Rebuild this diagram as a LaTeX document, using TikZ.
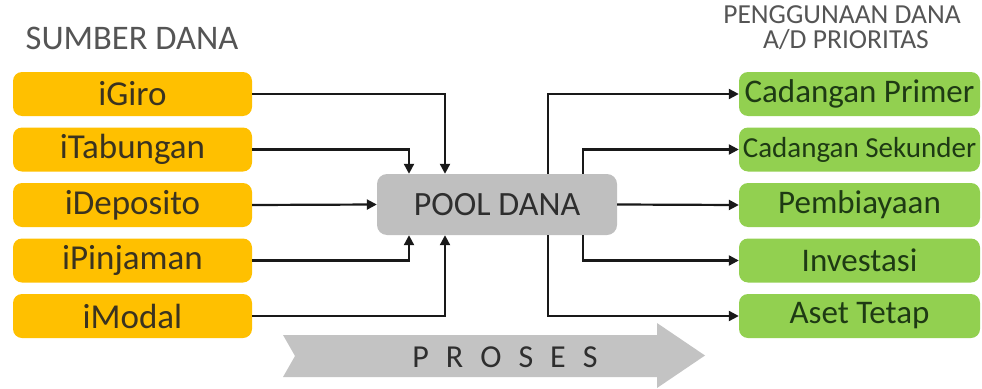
\documentclass[tikz,border=0pt]{standalone}
\usepackage{fontspec}
\setmainfont{Carlito}
\usetikzlibrary{arrows.meta,calc}
\definecolor{srcfill}{HTML}{FFC000}
\definecolor{usefill}{HTML}{92D050}
\definecolor{poolfill}{HTML}{BFBFBF}
\definecolor{arrowfill}{HTML}{C3C3C3}
\definecolor{headgray}{HTML}{555555}
\definecolor{srctext}{HTML}{3A3320}
\definecolor{usetext}{HTML}{1E3A14}
\definecolor{pooltext}{HTML}{2E2E2E}
\tikzset{
  srcbox/.style={fill=srcfill, rounded corners=9pt, minimum width=239pt, minimum height=44pt,
    inner sep=0pt, text=srctext, font=\fontsize{35}{38}\selectfont},
  usebox/.style={fill=usefill, rounded corners=9pt, minimum width=241pt, minimum height=44pt,
    inner sep=0pt, text=usetext, font=\fontsize{33}{36}\selectfont},
  flow/.style={line width=2.2pt, draw=black!90, -{Triangle[length=10pt,width=10pt]}},
  heading/.style={text=headgray, inner sep=0pt, align=center},
}
\begin{document}
\begin{tikzpicture}[x=1pt,y=-1pt]
  \useasboundingbox (0,0) rectangle (982,388);

  % column headings
  \node[heading, font=\fontsize{34.5}{36}\selectfont] (hsrc) at (132,38) {SUMBER DANA};
  \node[heading, font=\fontsize{27.5}{30}\selectfont, anchor=base] (huse1) at (842,23.5) {PENGGUNAAN DANA};
  \node[heading, font=\fontsize{27.5}{30}\selectfont, anchor=base] (huse2) at (846,48) {A/D PRIORITAS};

  % process arrow underneath
  \fill[arrowfill] (283,335) -- (657,335) -- (657,323) -- (705,355.5) -- (657,388)
    -- (657,377) -- (283,377) -- (295,356) -- cycle;
  \node[text=pooltext, font=\fontsize{32}{36}\selectfont, inner sep=0pt] (proses) at (505,357)
    {P\hspace{17pt}R\hspace{17pt}O\hspace{17pt}S\hspace{17pt}E\hspace{17pt}S};

  % sources of funds
  \node[srcbox] (giro) at (132.5,94)    {iGiro};
  \node[srcbox] (tab)  at (132.5,149.5) {iTabungan};
  \node[srcbox] (dep)  at (132.5,205)   {iDeposito};
  \node[srcbox] (pin)  at (132.5,260.5) {iPinjaman};
  \node[srcbox] (mod)  at (132.5,316)   {iModal};

  % pool
  \node[fill=poolfill, rounded corners=10pt, minimum width=240pt, minimum height=61pt,
    inner sep=0pt, text=pooltext, font=\fontsize{34}{36}\selectfont] (pool) at (497,204.5) {POOL DANA};

  % uses of funds
  \node[usebox] (prim) at (859.5,94)    {Cadangan Primer};
  \node[usebox, font=\fontsize{29}{32}\selectfont] (sek) at (859.5,149.5) {Cadangan Sekunder};
  \node[usebox] (biaya) at (859.5,205)  {Pembiayaan};
  \node[usebox] (inv)  at (859.5,260.5) {Investasi};
  \node[usebox] (aset) at (859.5,316)   {Aset Tetap};

  % vertical lanes around the pool
  \coordinate (laneA) at (445,0);
  \coordinate (laneB) at (409,0);
  \coordinate (laneC) at (548,0);
  \coordinate (laneD) at (583,0);

  % inflows
  \draw[flow] (giro.east) -| (laneA |- pool.north);
  \draw[flow] (tab.east)  -| (laneB |- pool.north);
  \draw[flow] (dep.east)  -- (pool.west);
  \draw[flow] (pin.east)  -| (laneB |- pool.south);
  \draw[flow] (mod.east)  -| (laneA |- pool.south);

  % outflows
  \draw[flow] (laneC |- pool.north) |- (prim.west);
  \draw[flow] (laneD |- pool.north) |- (sek.west);
  \draw[flow] (pool.east) -- (biaya.west);
  \draw[flow] (laneD |- pool.south) |- (inv.west);
  \draw[flow] (laneC |- pool.south) |- (aset.west);
\end{tikzpicture}
\end{document}
